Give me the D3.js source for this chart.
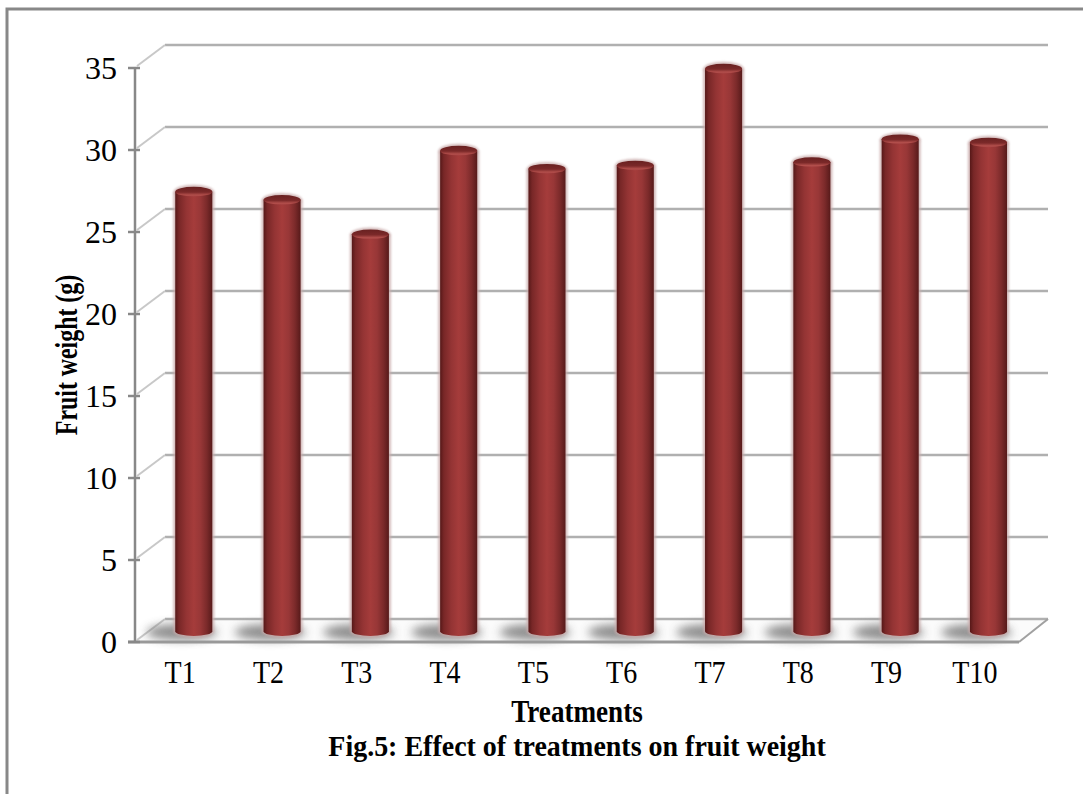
<!DOCTYPE html>
<html>
<head>
<meta charset="utf-8">
<script src="https://cdn.jsdelivr.net/npm/d3@7"></script>
<style>
  html, body { margin: 0; padding: 0; background: #fff; }
  svg { display: block; }
  text { font-family: "Liberation Serif", "Times New Roman", serif; fill: #000; }
</style>
</head>
<body>
<svg id="chart" width="1083" height="794"></svg>
<script>
// Fruit weight (g) per treatment
const categories = ["T1", "T2", "T3", "T4", "T5", "T6", "T7", "T8", "T9", "T10"];
const fruitWeight = [26.8, 26.3, 24.2, 29.3, 28.2, 28.4, 34.3, 28.6, 30.0, 29.8];
const yTicks = [0, 5, 10, 15, 20, 25, 30, 35];
const xTitle = "Treatments";
const yTitle = "Fruit weight (g)";
const caption = "Fig.5: Effect of treatments on fruit weight";

const svg = d3.select("#chart");
const defs = svg.append("defs");

// plot geometry (front plane + depth offset of the 3-D box)
const x0 = 136, x1 = 1019;
const depth = { dx: 29, dy: -23 };
const barDepth = 0.47;

const x = d3.scaleBand().domain(categories).range([x0, x1]).paddingInner(0).paddingOuter(0);
const y = d3.scaleLinear().domain([0, 35]).range([642, 68]);

// outer frame
svg.append("rect")
  .attr("x", 7).attr("y", 9).attr("width", 1110).attr("height", 820)
  .attr("fill", "none").attr("stroke", "#888").attr("stroke-width", 3);

// gradients for the cylinders
const body = defs.append("linearGradient").attr("id", "cyl").attr("x1", 0).attr("x2", 1).attr("y1", 0).attr("y2", 0);
[[0, "#561818"], [0.1, "#782727"], [0.3, "#943434"], [0.5, "#a53c3b"], [0.68, "#983737"], [0.85, "#7b2a2a"], [1, "#571a1a"]]
  .forEach(([o, c]) => body.append("stop").attr("offset", o).attr("stop-color", c));
const cap = defs.append("linearGradient").attr("id", "cap").attr("x1", 0).attr("x2", 0).attr("y1", 0).attr("y2", 1);
[[0, "#682121"], [0.55, "#7b2929"], [0.85, "#b24e4b"], [1, "#a64343"]]
  .forEach(([o, c]) => cap.append("stop").attr("offset", o).attr("stop-color", c));
defs.append("filter").attr("id", "soft").attr("x", "-50%").attr("y", "-100%").attr("width", "200%").attr("height", "300%")
  .append("feGaussianBlur").attr("stdDeviation", 5);
defs.append("filter").attr("id", "halo").attr("x", "-20%").attr("y", "-20%").attr("width", "140%").attr("height", "140%")
  .append("feGaussianBlur").attr("stdDeviation", 1.2);

// floor
const yb = y(0);
svg.append("path")
  .attr("d", `M${x0},${yb} L${x1},${yb} L${x1 + depth.dx},${yb + depth.dy} L${x0 + depth.dx},${yb + depth.dy} Z`)
  .attr("fill", "#fbfbfb").attr("stroke", "none");

// back-wall gridlines and side-wall diagonals
const grid = svg.append("g");
yTicks.forEach(t => {
  const yy = y(t);
  grid.append("line")
    .attr("x1", x0 + depth.dx).attr("x2", x1 + depth.dx)
    .attr("y1", yy + depth.dy).attr("y2", yy + depth.dy)
    .attr("stroke", "#b0b0b0").attr("stroke-width", 2.5);
  grid.append("line")
    .attr("x1", x0 + 1).attr("y1", yy - 2)
    .attr("x2", x0 + depth.dx).attr("y2", yy + depth.dy)
    .attr("stroke", "#c8c8c8").attr("stroke-width", 2);
});

// floor edges
svg.append("line").attr("x1", x1).attr("y1", yb).attr("x2", x1 + depth.dx).attr("y2", yb + depth.dy)
  .attr("stroke", "#a0a0a0").attr("stroke-width", 2);

// bar shadows on the floor
const bars = svg.append("g");
const r = x.bandwidth() * 0.21;
const ry = 4.8;
const cx = d => x(d.c) + x.bandwidth() / 2 + depth.dx * barDepth;
const cy = v => y(v) + depth.dy * barDepth;
const data = categories.map((c, i) => ({ c, v: fruitWeight[i] }));

bars.selectAll("ellipse.shadow").data(data).join("ellipse")
  .attr("class", "shadow")
  .attr("cx", d => cx(d) - 12).attr("cy", cy(0) + 1)
  .attr("rx", r * 1.9).attr("ry", 8)
  .attr("fill", "#7a7a7a").attr("opacity", 0.85)
  .attr("filter", "url(#soft)");

// front floor edge (drawn over the shadows)
svg.append("line").attr("x1", x0 - 8).attr("y1", yb).attr("x2", x1).attr("y2", yb)
  .attr("stroke", "#999").attr("stroke-width", 3);

// cylinders
const cylPath = (d, grow) => {
  const X = cx(d), yt = cy(d.v), ybt = cy(0), rr = r + grow;
  return `M${X - rr},${yt} L${X - rr},${ybt} A${rr},${ry + grow} 0 0 0 ${X + rr},${ybt} L${X + rr},${yt} Z`;
};
bars.selectAll("path.halo").data(data).join("path")
  .attr("class", "halo")
  .attr("d", d => cylPath(d, 2))
  .attr("fill", "#c9aaaa").attr("opacity", 0.8).attr("filter", "url(#halo)");
bars.selectAll("ellipse.halocap").data(data).join("ellipse")
  .attr("class", "halocap")
  .attr("cx", d => cx(d)).attr("cy", d => cy(d.v))
  .attr("rx", r + 1.5).attr("ry", ry + 2)
  .attr("fill", "#c9aaaa").attr("opacity", 0.8).attr("filter", "url(#halo)");
bars.selectAll("path.body").data(data).join("path")
  .attr("class", "body")
  .attr("d", d => cylPath(d, 0))
  .attr("fill", "url(#cyl)");
bars.selectAll("ellipse.cap").data(data).join("ellipse")
  .attr("class", "cap")
  .attr("cx", d => cx(d)).attr("cy", d => cy(d.v))
  .attr("rx", r).attr("ry", ry)
  .attr("fill", "url(#cap)");

// vertical axis with ticks
const ax = svg.append("g");
ax.append("line").attr("x1", x0 - 1).attr("x2", x0 - 1).attr("y1", y(35)).attr("y2", yb)
  .attr("stroke", "#888").attr("stroke-width", 2.5);
ax.selectAll("line.tick").data(yTicks).join("line")
  .attr("class", "tick")
  .attr("x1", x0 - 8).attr("x2", x0 + 4)
  .attr("y1", d => y(d)).attr("y2", d => y(d))
  .attr("stroke", "#888").attr("stroke-width", 2.5);
ax.selectAll("text").data(yTicks).join("text")
  .attr("transform", d => `translate(117,${y(d) + 11})`)
  .attr("text-anchor", "end")
  .attr("font-size", 32)
  .text(d => d);

// category labels
svg.append("g").selectAll("text").data(categories).join("text")
  .attr("transform", d => `translate(${x(d) + x.bandwidth() / 2},683) scale(0.875,1)`)
  .attr("text-anchor", "middle")
  .attr("font-size", 32)
  .text(d => d);

// axis titles and caption
svg.append("text")
  .attr("transform", "translate(577,722) scale(0.875,1)")
  .attr("text-anchor", "middle").attr("font-size", 31).attr("font-weight", "bold")
  .text(xTitle);
svg.append("text")
  .attr("transform", "translate(577,756) scale(0.965,1)")
  .attr("text-anchor", "middle").attr("font-size", 29).attr("font-weight", "bold")
  .text(caption);
svg.append("text")
  .attr("transform", "translate(77,355) rotate(-90) scale(0.77,1)")
  .attr("text-anchor", "middle").attr("font-size", 31).attr("font-weight", "bold")
  .text(yTitle);
</script>
</body>
</html>
